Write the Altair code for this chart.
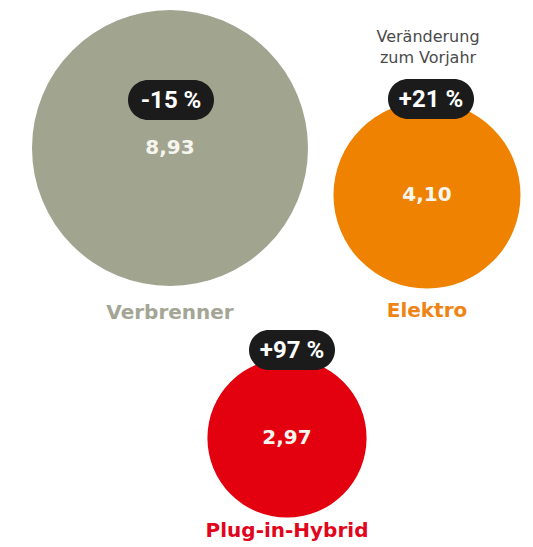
import altair as alt
import pandas as pd

# ---- data ----
categories = ["Verbrenner", "Elektro", "Plug-in-Hybrid"]
values = [8.93, 4.10, 2.97]
value_labels = ["8,93", "4,10", "2,97"]
changes = ["-15 %", "+21 %", "+97 %"]
note_lines = ["Veränderung", "zum Vorjahr"]

# ---- layout (page pixel positions) ----
bubble_x = [170, 427, 287]
bubble_y = [148, 195, 438]
badge_x = [171, 431, 292]
badge_y = [100, 99, 350]
label_y = [313, 311, 531]
note_x = [428, 428]
note_y = [42, 63]
max_radius = 138

# ---- styles ----
fill_colors = ["#a1a48f", "#ef8200", "#e3000f"]
label_colors = ["#a3a595", "#ef8416", "#e1061c"]
badge_color = "#1b1b1b"

W, H = 517, 531
xs = alt.Scale(domain=[8, 8 + W], nice=False, zero=False)
ys = alt.Scale(domain=[8, 8 + H], nice=False, zero=False, reverse=True)

df = pd.DataFrame({
    "category": categories,
    "value": values,
    "vlabel": value_labels,
    "change": changes,
    "bx": bubble_x,
    "by": bubble_y,
    "gx": badge_x,
    "gy": badge_y,
    "ly": label_y,
})
notes = pd.DataFrame({"text": note_lines, "x": note_x, "y": note_y})

base = alt.Chart(df)

bubbles = base.mark_circle(opacity=1, stroke=None).encode(
    x=alt.X("bx:Q", scale=xs, axis=None),
    y=alt.Y("by:Q", scale=ys, axis=None),
    size=alt.Size("value:Q",
                  scale=alt.Scale(type="linear", domain=[0, max(values)],
                                  range=[0, (2 * max_radius) ** 2], zero=True),
                  legend=None),
    color=alt.Color("category:N",
                    scale=alt.Scale(domain=categories, range=fill_colors),
                    legend=None),
)

value_text = base.mark_text(font="DejaVu Sans", fontWeight="bold", fontSize=20,
                            color="#f6f5ee", align="center", baseline="middle").encode(
    x=alt.X("bx:Q", scale=xs, axis=None),
    y=alt.Y("by:Q", scale=ys, axis=None),
    text="vlabel:N",
)

badges = base.mark_rect(width=86, height=40, cornerRadius=20, color=badge_color).encode(
    x=alt.X("gx:Q", scale=xs, axis=None),
    y=alt.Y("gy:Q", scale=ys, axis=None),
)

badge_text = base.mark_text(font="Roboto", fontWeight="bold", fontSize=24,
                            color="#ffffff", align="center", baseline="middle",
                            dy=1).encode(
    x=alt.X("gx:Q", scale=xs, axis=None),
    y=alt.Y("gy:Q", scale=ys, axis=None),
    text="change:N",
)

cat_labels = base.mark_text(font="DejaVu Sans", fontWeight="bold", fontSize=20,
                            align="center", baseline="middle").encode(
    x=alt.X("bx:Q", scale=xs, axis=None),
    y=alt.Y("ly:Q", scale=ys, axis=None),
    text="category:N",
    color=alt.Color("category:N",
                    scale=alt.Scale(domain=categories, range=label_colors),
                    legend=None),
)

note = alt.Chart(notes).mark_text(font="DejaVu Sans", fontSize=16, color="#4a4a4a",
                                  align="center", baseline="alphabetic").encode(
    x=alt.X("x:Q", scale=xs, axis=None),
    y=alt.Y("y:Q", scale=ys, axis=None),
    text="text:N",
)

chart = alt.layer(bubbles, value_text, badges, badge_text, cat_labels, note).resolve_scale(
    color="independent"
).properties(
    width=W, height=H, padding=0, background="white"
).configure_view(stroke=None)

chart.save("out.html", embed_options={"renderer": "svg", "actions": False})
